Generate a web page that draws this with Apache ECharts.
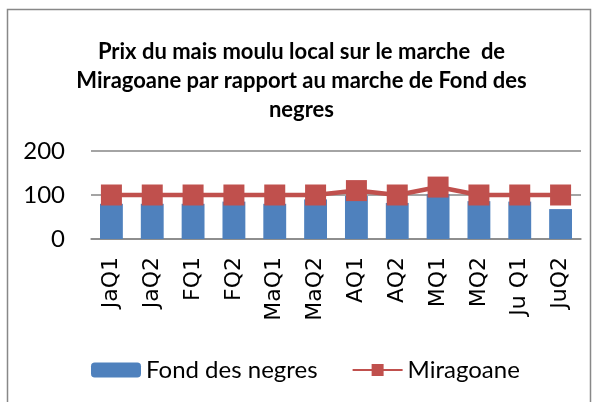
<!DOCTYPE html>
<html>
<head>
<meta charset="utf-8">
<script src="https://cdn.jsdelivr.net/npm/echarts@6/dist/echarts.min.js"></script>
<style>
  html, body { margin: 0; padding: 0; background: #fff; }
  #chart { width: 603px; height: 402px; }
</style>
</head>
<body>
<div id="chart"></div>
<script>
// données
const categories = ['JaQ1', 'JaQ2', 'FQ1', 'FQ2', 'MaQ1', 'MaQ2', 'AQ1', 'AQ2', 'MQ1', 'MQ2', 'Ju Q1', 'JuQ2'];
const fondDesNegres = [80, 80, 80, 85, 80, 90, 98, 82, 102, 86, 85, 68];
const miragoane = [100, 100, 100, 100, 100, 100, 110, 100, 118, 100, 100, 100];
const yTicks = { min: 0, max: 200, interval: 100 };

const chart = echarts.init(document.getElementById('chart'));

chart.setOption({
  animation: false,
  title: {
    text: 'Prix du mais moulu local sur le marche  de\nMiragoane par rapport au marche de Fond des\nnegres',
    left: 'center',
    top: 32,
    textStyle: {
      fontFamily: 'Lato', fontWeight: 'bold', fontSize: 22,
      lineHeight: 29, color: '#000'
    }
  },
  graphic: [{
    type: 'rect',
    shape: { x: 7.5, y: 9.5, width: 583, height: 420 },
    style: { fill: 'none', stroke: '#888', lineWidth: 1.5 },
    silent: true
  }],
  legend: {
    left: 86,
    top: 353,
    itemWidth: 50,
    itemHeight: 15,
    itemGap: 34,
    textStyle: { fontFamily: 'Lato', fontSize: 24, color: '#000' },
    data: ['Fond des negres', 'Miragoane']
  },
  grid: { left: 91, right: 22, top: 151, bottom: 163 },
  xAxis: {
    type: 'category',
    data: categories,
    axisLine: { lineStyle: { color: '#868686', width: 1.5 } },
    axisTick: { show: false },
    axisLabel: {
      rotate: 90, margin: 18, color: '#000',
      fontFamily: 'DejaVu Sans', fontSize: 22
    }
  },
  yAxis: {
    type: 'value',
    min: yTicks.min, max: yTicks.max, interval: yTicks.interval,
    axisLine: { show: false },
    axisTick: { show: false },
    axisLabel: { color: '#000', fontFamily: 'Lato', fontSize: 24, margin: 26 },
    splitLine: { lineStyle: { color: '#868686', width: 1.5 } }
  },
  series: [
    {
      name: 'Fond des negres',
      type: 'bar',
      data: fondDesNegres,
      barWidth: '56%',
      itemStyle: { color: '#4F81BD' }
    },
    {
      name: 'Miragoane',
      type: 'line',
      data: miragoane,
      symbol: 'rect',
      symbolSize: 21,
      lineStyle: { color: '#C0504D', width: 4.5 },
      itemStyle: { color: '#C0504D' }
    }
  ]
});
</script>
</body>
</html>
